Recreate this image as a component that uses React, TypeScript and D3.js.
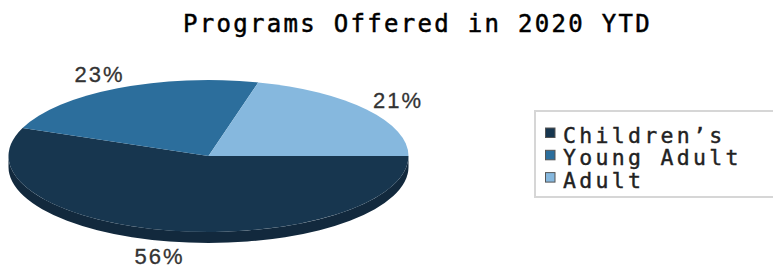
import React from "react";
import * as d3 from "d3";

const title = "Programs Offered in 2020 YTD";
const categories = ["Children’s", "Young Adult", "Adult"];
const values = [56, 23, 21];
const topColors = ["#17364F", "#2C6E9C", "#86B8DE"];
const sideColors = ["#12293D", "#22577C", "#6A93B2"];

const W = 773;
const H = 275;
const cx = 208.5;
const cy = 156;
const rx = 200;
const ry = 76;
const depth = 11;

function pt(a: number, dy = 0): [number, number] {
  return [cx + rx * Math.sin(a), cy - ry * Math.cos(a) + dy];
}

export default function App() {
  const pie = d3
    .pie<number>()
    .sort(null)
    .startAngle(Math.PI / 2)
    .endAngle(Math.PI / 2 + 2 * Math.PI)
    .value((d) => d);
  const arcs = pie(values);

  const sides: { d: string; color: string }[] = [];
  arcs.forEach((a, i) => {
    const s = Math.max(a.startAngle, Math.PI / 2);
    const e = Math.min(a.endAngle, (3 * Math.PI) / 2);
    if (e > s) {
      const p0 = pt(s);
      const p1 = pt(e);
      const q1 = pt(e, depth);
      const q0 = pt(s, depth);
      sides.push({
        d: `M${p0[0]},${p0[1]} A${rx},${ry} 0 0 1 ${p1[0]},${p1[1]} L${q1[0]},${q1[1]} A${rx},${ry} 0 0 0 ${q0[0]},${q0[1]} Z`,
        color: sideColors[i],
      });
    }
  });

  const tops = arcs.map((a, i) => {
    const p0 = pt(a.startAngle);
    const p1 = pt(a.endAngle);
    const large = a.endAngle - a.startAngle > Math.PI ? 1 : 0;
    return {
      d: `M${cx},${cy} L${p0[0]},${p0[1]} A${rx},${ry} 0 ${large} 1 ${p1[0]},${p1[1]} Z`,
      color: topColors[i],
    };
  });

  const fmt = d3.format(".0f");
  const total = d3.sum(values);
  const labels = arcs.map((a) => {
    const mid = (a.startAngle + a.endAngle) / 2;
    const k = 1.2;
    const below = Math.cos(mid) < 0;
    return {
      x: cx + k * rx * Math.sin(mid) - (below ? 4 : 0),
      y: cy - k * ry * Math.cos(mid) + (below ? depth : 0),
      text: fmt((a.data / total) * 100) + "%",
    };
  });

  const legendX = 535;
  const legendY = 111;
  const rowH = 22.3;

  return (
    <svg
      width={W}
      height={H}
      style={{ position: "absolute", left: 0, top: 0, background: "#fff" }}
    >
      <text
        x={183}
        y={32}
        fontFamily="DejaVu Sans Mono"
        fontSize={24}
        letterSpacing={2.3}
        fill="#000"
        stroke="#000"
        strokeWidth={0.5}
      >
        {title}
      </text>
      {sides.map((s, i) => (
        <path key={"s" + i} d={s.d} fill={s.color} />
      ))}
      {tops.map((t, i) => (
        <path key={"t" + i} d={t.d} fill={t.color} />
      ))}
      {labels.map((l, i) => (
        <text
          key={"l" + i}
          x={l.x}
          y={l.y}
          textAnchor="middle"
          dominantBaseline="central"
          fontFamily="Liberation Sans"
          fontSize={22}
          letterSpacing={2}
          fill="#333"
          stroke="#333"
          strokeWidth={0.3}
        >
          {l.text}
        </text>
      ))}
      <rect
        x={legendX}
        y={legendY}
        width={250}
        height={86}
        fill="#fff"
        stroke="#d6d6d6"
        strokeWidth={2}
      />
      {categories.map((c, i) => {
        const base = 143 + i * rowH;
        return (
          <g key={"g" + i}>
            <rect
              x={545.5}
              y={base - 15}
              width={9.5}
              height={9.5}
              fill={topColors[i]}
              stroke="#555"
              strokeWidth={1}
            />
            <text
              x={563}
              y={base}
              fontFamily="DejaVu Sans Mono"
              fontSize={21.5}
              letterSpacing={3.3}
              fill="#222"
              stroke="#222"
              strokeWidth={0.4}
            >
              {c}
            </text>
          </g>
        );
      })}
    </svg>
  );
}
